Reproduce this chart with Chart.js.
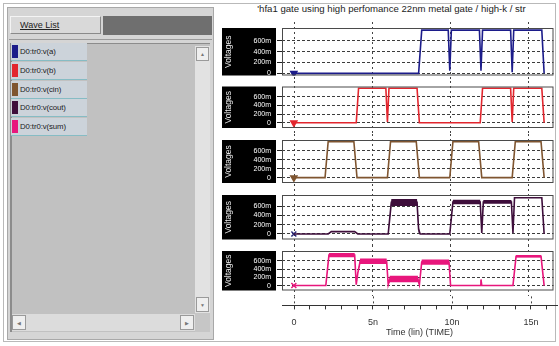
<!DOCTYPE html>
<html>
<head>
<meta charset="utf-8">
<script src="https://cdn.jsdelivr.net/npm/chart.js@4.4.1/dist/chart.umd.min.js"></script>
<style>
  html, body { margin: 0; padding: 0; background: #fff; }
  body { width: 559px; height: 346px; position: relative; overflow: hidden;
         font-family: "Liberation Sans", Arial, sans-serif; }
  .abs { position: absolute; box-sizing: border-box; }
  canvas { position: absolute; left: 220px; }
  .item { position: absolute; left: 11px; width: 76px; height: 18px; background: #ccd3da;
          border-bottom: 1px solid #86bcc4; font-size: 7.8px; color: #1a1a1a; line-height: 18px;
          padding-left: 9px; box-sizing: border-box; letter-spacing: -0.1px; }
  .item i { position: absolute; left: 1px; top: 2px; width: 6px; height: 13px; }
  .btn { position: absolute; background: #efefef; border: 1px solid #9a9a9a; box-sizing: border-box;
         font-size: 5px; color: #777; text-align: center; }
</style>
</head>
<body>
<div class="abs" style="left:3px;top:3px;width:553px;height:339px;border:1px solid #b9b9b9;"></div>

<!-- wave list panel -->
<div class="abs" style="left:7px;top:7px;width:207px;height:333px;background:#d5d5d5;border:1px solid #a8a8a8;"></div>
<div class="abs" style="left:10px;top:16px;width:91px;height:18px;background:#d9d9d9;border:1px solid;border-color:#f4f4f4 #8a8a8a #8a8a8a #f4f4f4;font-size:9px;line-height:16px;padding-left:9px;color:#222;"><u>Wave List</u></div>
<div class="abs" style="left:103px;top:16px;width:109px;height:19px;background:#6f6f6f;"></div>
<div class="abs" style="left:9px;top:39px;width:203px;height:1px;background:#9a9a9a;"></div>
<div class="abs" style="left:10px;top:43px;width:200px;height:289px;background:#c1c1c1;border-left:2px solid #8c8c8c;border-top:1px solid #8c8c8c;"></div>

<div id="items"></div>

<div class="abs" style="left:195px;top:46px;width:15px;height:267px;background:#e2e2e2;"></div>
<div class="btn" style="left:196px;top:47px;width:13px;height:14px;line-height:13px;">&#9650;</div>
<div class="btn" style="left:196px;top:297px;width:13px;height:15px;line-height:14px;">&#9660;</div>
<div class="abs" style="left:12px;top:314px;width:183px;height:17px;background:#dcdcdc;"></div>
<div class="btn" style="left:12px;top:315px;width:14px;height:15px;line-height:14px;">&#9664;</div>
<div class="btn" style="left:180px;top:315px;width:14px;height:15px;line-height:14px;">&#9654;</div>
<div class="abs" style="left:195px;top:313px;width:15px;height:19px;background:#c6c6c6;"></div>

<!-- plot title -->
<div class="abs" style="left:222px;top:3px;width:339px;text-align:center;font-size:9.6px;color:#222;white-space:nowrap;">'hfa1 gate using high perfomance 22nm metal gate / high-k / str</div>

<canvas id="cAxis" width="339" height="88" style="top:250px"></canvas>
<canvas id="cA" width="339" height="59" style="top:22px"></canvas>
<canvas id="cB" width="339" height="53" style="top:81px"></canvas>
<canvas id="cCin" width="339" height="55" style="top:134px"></canvas>
<canvas id="cCout" width="339" height="56" style="top:189px"></canvas>
<canvas id="cSum" width="339" height="51" style="top:245px"></canvas>

<script>
// wave list
const signalNames = ['D0:tr0:v(a)', 'D0:tr0:v(b)', 'D0:tr0:v(cin)', 'D0:tr0:v(cout)', 'D0:tr0:v(sum)'];
const signalColors = ['#1c1c8a', '#e2262e', '#7f5530', '#3e0e3b', '#e8167c'];

// time axis, ns
const timeMin = -0.76;
const timeMax = 16.65;
const timeTicks = [0, 1, 2, 3, 4, 5, 6, 7, 8, 9, 10, 11, 12, 13, 14, 15, 16];
const timeMajor = [0, 5, 10, 15];
const timeLabels = ['0', '5n', '10n', '15n'];

// voltage axis, V
const voltMin = -0.12;
const voltMinA = -0.04;
const voltMax = 0.84;
const voltTicks = [0, 0.2, 0.4, 0.6];

// waveforms (time in ns, volts)
const aTime = [0, 8.0, 8.2, 9.9, 10.0, 10.1, 11.9, 12.0, 12.1, 13.9, 14.0, 14.1, 15.9, 16.05];
const aVolt = [0, 0, 0.8, 0.8, 0.05, 0.8, 0.8, 0.05, 0.8, 0.8, 0.02, 0.8, 0.8, 0];

const bTime = [0, 4.0, 4.15, 5.9, 6.0, 6.1, 7.9, 8.05, 11.95, 12.1, 13.9, 14.0, 14.1, 15.9, 16.05];
const bVolt = [0, 0, 0.8, 0.8, 0.02, 0.8, 0.8, 0, 0, 0.8, 0.8, 0.02, 0.8, 0.8, 0];

const cinTime = [0, 2.0, 2.2, 3.85, 4.05, 6.0, 6.2, 7.85, 8.05, 10.0, 10.2, 11.85, 12.05, 14.0, 14.2, 15.85, 16.05];
const cinVolt = [0, 0, 0.8, 0.8, 0, 0, 0.8, 0.8, 0, 0, 0.8, 0.8, 0, 0, 0.8, 0.8, 0];

const coutTime = [0, 2.2, 2.4, 3.9, 4.1, 6.05, 6.25, 7.9, 8.0, 8.1, 10.0, 10.2, 11.95, 12.05, 12.15, 13.95, 14.05, 14.15, 15.9, 16.05];
const coutVolt = [0, 0, 0.05, 0.05, 0, 0, 0.68, 0.68, 0.1, 0, 0, 0.69, 0.69, 0.02, 0.69, 0.69, 0.02, 0.78, 0.78, 0];
const coutNoise = [0, 0, 0, 0, 0, 0, 0.15, 0.15, 0.15, 0, 0, 0.1, 0.1, 0, 0.08, 0.08, 0, 0, 0, 0];

const sumTime = [0, 2.05, 2.25, 3.9, 4.0, 4.1, 4.25, 5.95, 6.05, 6.15, 7.95, 8.05, 8.2, 9.95, 10.05, 11.95, 12.0, 12.05, 14.05, 14.25, 15.85, 16.05];
const sumVolt = [0, 0, 0.74, 0.74, 0.02, 0.3, 0.59, 0.59, 0.02, 0.16, 0.16, 0.02, 0.57, 0.57, 0, 0, 0.15, 0, 0, 0.71, 0.71, 0];
const sumNoise = [0, 0, 0.1, 0.1, 0, 0, 0.13, 0.13, 0, 0.16, 0.16, 0, 0.13, 0.13, 0, 0, 0, 0, 0, 0.06, 0.06, 0];

// list entries
const items = document.getElementById('items');
signalNames.forEach((name, i) => {
  const d = document.createElement('div');
  d.className = 'item';
  d.style.top = (43 + i * 18.8) + 'px';
  d.innerHTML = '<i style="background:' + signalColors[i] + '"></i>' + name;
  items.appendChild(d);
});

// black label block, frame and the time markers that run through the gaps
const scopeFrame = {
  id: 'scopeFrame',
  beforeDraw(chart, args, opts) {
    const { ctx, chartArea: a, scales } = chart;
    ctx.save();
    if (opts.block) {
      ctx.fillStyle = '#000';
      ctx.fillRect(2, a.top, a.left - 8, a.bottom - a.top);
    }
    ctx.strokeStyle = '#444';
    ctx.lineWidth = 1;
    ctx.setLineDash([2, 3]);
    timeMajor.forEach(t => {
      const x = Math.round(scales.x.getPixelForValue(t)) + 0.5;
      ctx.beginPath();
      ctx.moveTo(x, opts.block ? 0 : a.bottom - opts.gap);
      ctx.lineTo(x, opts.block ? chart.height : a.bottom);
      ctx.stroke();
    });
    ctx.restore();
  },
  afterDraw(chart, args, opts) {
    if (!opts.block) return;
    const { ctx, chartArea: a } = chart;
    ctx.save();
    ctx.strokeStyle = '#4a4a4a';
    ctx.lineWidth = 1;
    ctx.strokeRect(a.left + 0.5, a.top + 0.5, a.right - a.left - 1, a.bottom - a.top - 1);
    ctx.restore();
  }
};

function toPoints(t, v, noise, sign) {
  return t.map((x, i) => ({ x: x, y: v[i] + (noise ? sign * noise[i] / 2 : 0) }));
}

function waveChart(id, t, v, noise, color, marker, yMin, padTop, padBottom) {
  const sets = [];
  if (noise) {
    sets.push({ data: toPoints(t, v, noise, 1), borderWidth: 0, pointRadius: 0, fill: false });
    sets.push({ data: toPoints(t, v, noise, -1), borderWidth: 0, pointRadius: 0, fill: '-1', backgroundColor: color });
  }
  sets.push({ data: toPoints(t, v), borderColor: color, borderWidth: 1.6, pointRadius: 0, fill: false });
  sets.push({
    data: [{ x: t[0], y: v[0] }], showLine: false,
    pointStyle: marker.style, rotation: marker.rot || 0, pointRadius: 3.5,
    borderColor: marker.color, backgroundColor: marker.color, borderWidth: 1.5
  });

  return new Chart(document.getElementById(id), {
    type: 'line',
    data: { datasets: sets },
    options: {
      responsive: false,
      animation: false,
      events: [],
      layout: { padding: { top: padTop, bottom: padBottom, left: 0, right: 2 } },
      plugins: { legend: { display: false }, tooltip: { enabled: false }, scopeFrame: { block: true } },
      scales: {
        x: { type: 'linear', min: timeMin, max: timeMax, display: false },
        y: {
          min: yMin, max: voltMax,
          afterBuildTicks: s => { s.ticks = voltTicks.map(v => ({ value: v })); },
          afterFit: s => { s.width = 62; s.paddingTop = 0; s.paddingBottom = 0; },
          ticks: {
            color: '#fff', padding: 6, font: { size: 7, family: 'Liberation Sans' },
            callback: v => v === 0 ? '0' : Math.round(v * 1000) + 'm'
          },
          title: { display: true, text: 'Voltages', color: '#eee', padding: { top: 4, bottom: 0 },
                   font: { size: 8.5, family: 'Liberation Sans' } },
          grid: { color: '#3c3c3c', lineWidth: 1, tickLength: 5, tickColor: '#222' },
          border: { display: false, dash: [3, 2] }
        }
      }
    },
    plugins: [scopeFrame]
  });
}

waveChart('cA', aTime, aVolt, null, signalColors[0], { style: 'triangle', rot: 180, color: signalColors[0] }, voltMinA, 6, 2);
waveChart('cB', bTime, bVolt, null, signalColors[1], { style: 'triangle', rot: 180, color: signalColors[1] }, voltMin, 3, 6);
waveChart('cCin', cinTime, cinVolt, null, signalColors[2], { style: 'triangle', rot: 180, color: signalColors[2] }, voltMin, 6, 6);
waveChart('cCout', coutTime, coutVolt, coutNoise, signalColors[3], { style: 'crossRot', color: '#2a2a7a' }, voltMin, 6, 5);
waveChart('cSum', sumTime, sumVolt, sumNoise, signalColors[4], { style: 'crossRot', color: signalColors[4] }, voltMin, 6, 0);

// shared time axis under the panes (tall canvas so the axis box gets enough room)
new Chart(document.getElementById('cAxis'), {
  type: 'line',
  data: { datasets: [] },
  options: {
    responsive: false,
    animation: false,
    events: [],
    layout: { padding: { top: 0, bottom: 0, left: 62, right: 2 } },
    plugins: { legend: { display: false }, tooltip: { enabled: false }, scopeFrame: { block: false, gap: 9 } },
    scales: {
      x: {
        type: 'linear', min: timeMin, max: timeMax,
        afterBuildTicks: s => { s.ticks = timeTicks.map(v => ({ value: v })); },
        ticks: {
          color: '#333', padding: 8, maxRotation: 0, autoSkip: false,
          font: { size: 9, family: 'Liberation Sans' },
          callback: v => { const k = timeMajor.indexOf(v); return k < 0 ? '' : timeLabels[k]; }
        },
        title: { display: true, text: 'Time (lin) (TIME)', color: '#333', padding: { top: -9, bottom: 0 },
                 font: { size: 9, family: 'Liberation Sans' } },
        grid: { drawOnChartArea: false, tickLength: 4, tickColor: '#333' },
        border: { display: true, color: '#333', width: 1 }
      },
      y: { display: false }
    }
  },
  plugins: [scopeFrame]
});
</script>
</body>
</html>
